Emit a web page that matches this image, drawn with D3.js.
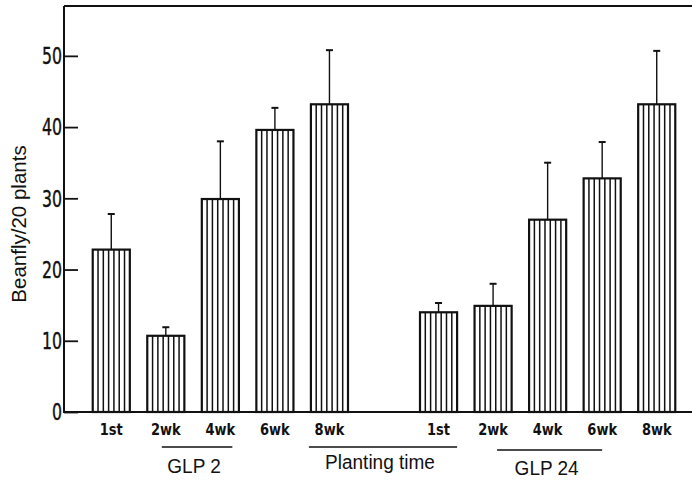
<!DOCTYPE html>
<html>
<head>
<meta charset="utf-8">
<script src="https://cdn.jsdelivr.net/npm/d3@7"></script>
<style>
  html, body { margin: 0; padding: 0; background: #fff; }
  svg { display: block; }
</style>
</head>
<body>
<div id="chart"></div>
<script>
// Beanfly counts per 20 plants by planting time, two trial series (GLP 2, GLP 24)
const categories = ["1st", "2wk", "4wk", "6wk", "8wk", "", "1st", "2wk", "4wk", "6wk", "8wk"];
const beanfly = [22.8, 10.7, 29.9, 39.6, 43.2, null, 14.0, 14.9, 27.0, 32.8, 43.2];
const errorUp = [5.0, 1.2, 8.1, 3.1, 7.6, null, 1.3, 3.1, 8.0, 5.1, 7.5];
const yTicks = [0, 10, 20, 30, 40, 50];
const groupLabels = ["GLP 2", "Planting time", "GLP 24"];
const groupFirst = [1, 4, 7];
const groupLast = [2, 6, 9];

const W = 692, H = 480;
const svg = d3.select("#chart").append("svg")
  .attr("width", W).attr("height", H);

const plotLeft = 64, plotBase = 412, plotTop = 6, plotRight = 692;

const y = d3.scaleLinear().domain([0, 57]).range([plotBase, plotTop]);
const x = d3.scaleBand()
  .domain(d3.range(categories.length))
  .range([84, 684])
  .paddingInner(0.32)
  .paddingOuter(0.16);
const bw = x.bandwidth();

const ink = "#111";

// frame: top rule, left axis, baseline
svg.append("line").attr("x1", plotLeft).attr("x2", plotRight).attr("y1", plotTop).attr("y2", plotTop)
  .attr("stroke", ink).attr("stroke-width", 2);
svg.append("line").attr("x1", plotLeft).attr("x2", plotLeft).attr("y1", plotTop).attr("y2", plotBase + 1)
  .attr("stroke", ink).attr("stroke-width", 2);
svg.append("line").attr("x1", plotLeft - 1).attr("x2", plotRight).attr("y1", plotBase).attr("y2", plotBase)
  .attr("stroke", ink).attr("stroke-width", 2.2);

// y axis with inward ticks
const yAxis = d3.axisRight(y).tickValues(yTicks).tickSize(14).tickFormat("");
const ya = svg.append("g").attr("transform", `translate(${plotLeft},0)`).call(yAxis);
ya.select(".domain").remove();
ya.selectAll(".tick line").attr("stroke", ink).attr("stroke-width", 1.8);

svg.append("g").selectAll("text").data(yTicks).join("text")
  .attr("transform", d => `translate(62,${y(d)}) scale(1,1.3)`)
  .attr("text-anchor", "end")
  .attr("dy", "0.36em")
  .attr("font-family", "DejaVu Sans Condensed, DejaVu Sans, sans-serif")
  .attr("font-size", 17.5)
  .attr("stroke", ink).attr("stroke-width", 0.3)
  .attr("fill", ink)
  .text(d => d);

// y axis title
svg.append("text")
  .attr("transform", "translate(26,224) rotate(-90)")
  .attr("text-anchor", "middle")
  .attr("font-family", "Liberation Sans, Arial, sans-serif")
  .attr("font-size", 20.5)
  .attr("fill", ink)
  .text("Beanfly/20 plants");

const idx = d3.range(categories.length).filter(i => beanfly[i] != null);

// hatched bars
const bars = svg.append("g").selectAll("g").data(idx).join("g");
bars.each(function (i) {
  const g = d3.select(this);
  const x0 = x(i), yt = y(beanfly[i]);
  const n = 7;
  for (let k = 1; k < n; k++) {
    g.append("line")
      .attr("x1", x0 + k * bw / n).attr("x2", x0 + k * bw / n)
      .attr("y1", yt).attr("y2", plotBase)
      .attr("stroke", ink).attr("stroke-width", 1.5);
  }
  g.append("rect")
    .attr("x", x0).attr("y", yt)
    .attr("width", bw).attr("height", plotBase - yt)
    .attr("fill", "none").attr("stroke", ink).attr("stroke-width", 2.2);
});

// error bars
const err = svg.append("g").selectAll("g").data(idx).join("g");
err.each(function (i) {
  const g = d3.select(this);
  const cx = x(i) + bw / 2;
  const y1 = y(beanfly[i]), y2 = y(beanfly[i] + errorUp[i]);
  g.append("line").attr("x1", cx).attr("x2", cx).attr("y1", y1).attr("y2", y2)
    .attr("stroke", ink).attr("stroke-width", 1.4);
  g.append("line").attr("x1", cx - 3.5).attr("x2", cx + 3.5).attr("y1", y2).attr("y2", y2)
    .attr("stroke", ink).attr("stroke-width", 2);
});

// category labels
svg.append("g").selectAll("text").data(d3.range(categories.length)).join("text")
  .attr("transform", i => `translate(${x(i) + bw / 2},429) scale(1,1.25)`)
  .attr("text-anchor", "middle")
  .attr("dy", "0.36em")
  .attr("font-family", "DejaVu Sans, sans-serif")
  .attr("font-weight", "bold")
  .attr("font-size", 13)
  .attr("fill", ink)
  .text(i => categories[i]);

// group rules and labels
const spanPad = [[-4, 12], [-2 - bw / 2, bw / 2], [4, 0]];
const ruleY = [447, 447, 450];
const textY = [466, 462, 468];
groupLabels.forEach((lab, j) => {
  const x1 = x(groupFirst[j]) + bw / 2 + spanPad[j][0];
  const x2 = x(groupLast[j]) + bw / 2 + spanPad[j][1];
  svg.append("line").attr("x1", x1).attr("x2", x2).attr("y1", ruleY[j]).attr("y2", ruleY[j])
    .attr("stroke", ink).attr("stroke-width", 1.5);
  svg.append("text")
    .attr("transform", `translate(${(x1 + x2) / 2 - 3},${textY[j]}) scale(1,1.08)`)
    .attr("text-anchor", "middle")
    .attr("dy", "0.36em")
    .attr("font-family", "Liberation Sans, Arial, sans-serif")
    .attr("font-size", 19)
    .attr("fill", ink)
    .text(lab);
});
</script>
</body>
</html>
